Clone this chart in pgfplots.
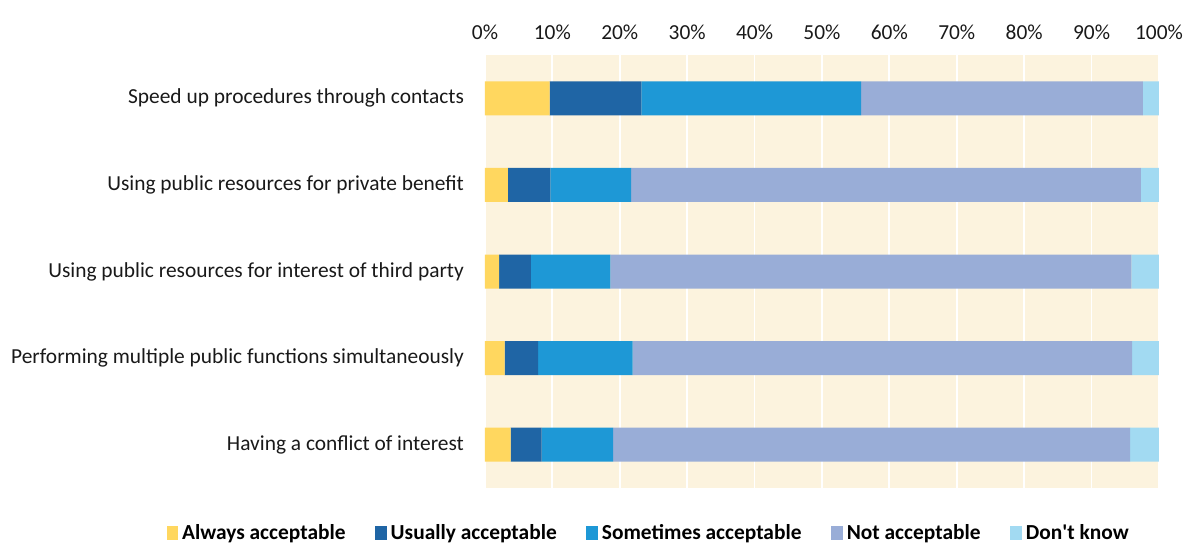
\documentclass[border=0pt]{standalone}
\usepackage{fontspec}
\setmainfont{Carlito}
\usepackage{pgfplots}
\pgfplotsset{compat=1.18}
\definecolor{cA}{HTML}{FFD75F}
\definecolor{cB}{HTML}{1F65A5}
\definecolor{cC}{HTML}{1E98D6}
\definecolor{cD}{HTML}{99ADD7}
\definecolor{cE}{HTML}{A2DAF2}
\definecolor{bg}{HTML}{FCF3DE}
\begin{document}
\begin{tikzpicture}
\useasboundingbox (-242.5pt,-27pt) rectangle (350pt,244pt);
\begin{axis}[
  at={(0,0)}, anchor=south west,
  scale only axis, width=337pt, height=216.5pt,
  xbar stacked, bar width=17pt,
  xmin=0, xmax=100, ymin=-0.5, ymax=4.5, y dir=reverse,
  ytick={0,1,2,3,4},
  yticklabels={Speed up procedures through contacts,Using public resources for private benefit,Using public resources for interest of third party,Performing multiple public functions simultaneously,Having a conflict of interest},
  xtick={0,10,...,100},
  xticklabel pos=top,
  xticklabel={\pgfmathprintnumber{\tick}\%},
  /pgf/number format/assume math mode=true,
  major tick length=0pt,
  axis line style={draw=none},
  axis background/.style={fill=bg},
  xmajorgrids, grid style={white, line width=0.9pt},
  tick label style={font=\fontsize{10.7}{12}\selectfont, text=black!90},
  yticklabel style={xshift=-7pt},
  xticklabel style={yshift=4pt},
  legend style={at={(-0.482,-0.1040)}, anchor=west, draw=none, fill=none,
    legend columns=-1, font=\fontsize{10.7}{12}\selectfont\bfseries,
    /tikz/every even column/.append style={column sep=12.8pt}},
  legend image code/.code={\fill (0pt,-0.33em) rectangle (0.58em,0.33em);},
]
\addplot[fill=cA, draw=none] coordinates {(9.6,0) (3.4,1) (2.1,2) (2.9,3) (3.8,4)};
\addplot[fill=cB, draw=none] coordinates {(13.6,0) (6.3,1) (4.7,2) (5.0,3) (4.6,4)};
\addplot[fill=cC, draw=none] coordinates {(32.6,0) (12.0,1) (11.8,2) (14.0,3) (10.6,4)};
\addplot[fill=cD, draw=none] coordinates {(41.8,0) (75.6,1) (77.3,2) (74.1,3) (76.7,4)};
\addplot[fill=cE, draw=none] coordinates {(2.4,0) (2.7,1) (4.1,2) (4.0,3) (4.3,4)};
\legend{Always acceptable,Usually acceptable,Sometimes acceptable,Not acceptable,Don\textquotesingle t know}
\end{axis}
\end{tikzpicture}
\end{document}
